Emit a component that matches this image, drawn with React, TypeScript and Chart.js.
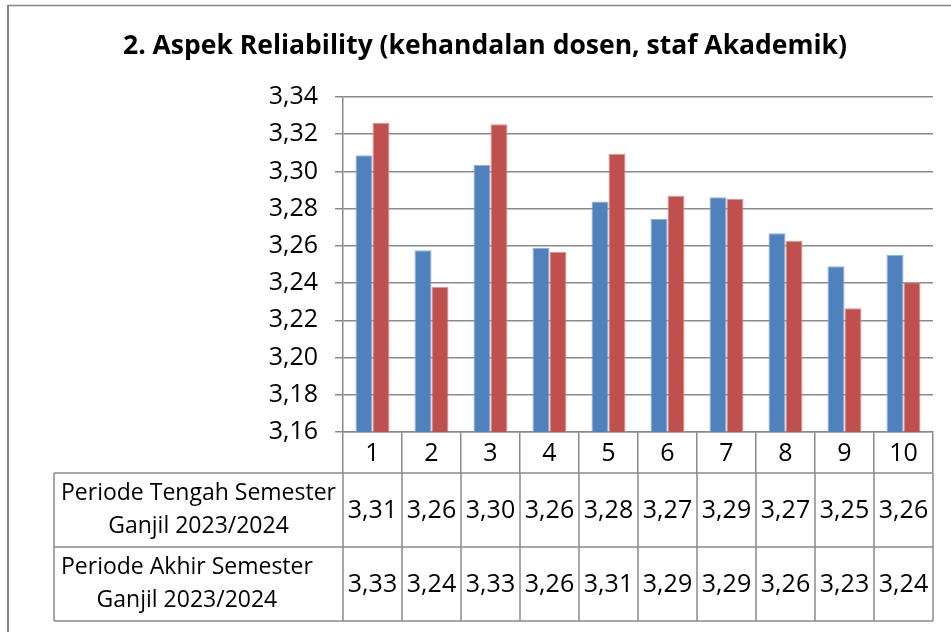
import React, { useEffect, useRef } from "react";
import { Chart, registerables } from "chart.js";

Chart.register(...registerables);

const chartTitle = "2. Aspek Reliability (kehandalan dosen, staf Akademik)";
const categories = ["1", "2", "3", "4", "5", "6", "7", "8", "9", "10"];
const tengahLabel = ["Periode Tengah Semester", "Ganjil 2023/2024"];
const akhirLabel = ["Periode Akhir Semester", "Ganjil 2023/2024"];
const tengahValues = [3.3087, 3.2576, 3.3035, 3.259, 3.2838, 3.2745, 3.2861, 3.2668, 3.249, 3.2553];
const akhirValues = [3.3262, 3.2381, 3.3253, 3.2567, 3.3095, 3.287, 3.2852, 3.2628, 3.2265, 3.2404];
const yMin = 3.16;
const yMax = 3.34;
const yStep = 0.02;

const FONT = '"Open Sans", "DejaVu Sans", sans-serif';
const GRID = "#8a8a8a";
const NUM_SIZE = 25;

const fmt = (v: number) => v.toFixed(2).replace(".", ",");

const chromePlugin = {
  id: "chrome",
  beforeDraw(chart: any) {
    const ctx = chart.ctx;
    ctx.save();
    ctx.fillStyle = "#ffffff";
    ctx.fillRect(0, 0, chart.width, chart.height);
    ctx.strokeStyle = "#868686";
    ctx.lineWidth = 2;
    ctx.beginPath();
    ctx.moveTo(8, 5);
    ctx.lineTo(8, chart.height);
    ctx.stroke();
    ctx.lineWidth = 1.5;
    ctx.beginPath();
    ctx.moveTo(7, 5.5);
    ctx.lineTo(chart.width, 5.5);
    ctx.stroke();
    ctx.restore();
  },
  afterDraw(chart: any) {
    const ctx = chart.ctx;
    const xs = chart.scales.x;
    ctx.save();
    // title
    ctx.fillStyle = "#000";
    ctx.font = `bold 26.5px ${FONT}`;
    ctx.textAlign = "center";
    ctx.textBaseline = "alphabetic";
    ctx.fillText(chartTitle, 485, 54);

    // data table
    const tableTop = xs.top + xs.options.grid.tickLength;
    const rowH = (xs.bottom - tableTop) / 2;
    const tableLeft = 54;
    const n = categories.length;
    const bounds: number[] = [xs.left];
    for (let i = 0; i < n - 1; i++) {
      bounds.push((xs.getPixelForValue(i) + xs.getPixelForValue(i + 1)) / 2);
    }
    bounds.push(xs.right);

    ctx.strokeStyle = GRID;
    ctx.lineWidth = 1.5;
    ctx.beginPath();
    for (let r = 0; r <= 2; r++) {
      const y = tableTop + r * rowH;
      ctx.moveTo(tableLeft, y);
      ctx.lineTo(xs.right, y);
    }
    ctx.moveTo(tableLeft, tableTop);
    ctx.lineTo(tableLeft, xs.bottom);
    bounds.forEach((b) => {
      ctx.moveTo(b, tableTop);
      ctx.lineTo(b, xs.bottom);
    });
    ctx.stroke();

    ctx.fillStyle = "#000";
    ctx.textAlign = "center";
    ctx.textBaseline = "middle";
    chart.data.datasets.forEach((ds: any, r: number) => {
      const cy = tableTop + r * rowH + rowH / 2;
      const lines: string[] = ds.label.split("\n");
      const lh = 33;
      ctx.font = `23px ${FONT}`;
      const maxW = Math.max(...lines.map((ln) => ctx.measureText(ln).width));
      const labelX = tableLeft + 7 + maxW / 2;
      lines.forEach((ln, k) => {
        ctx.fillText(ln, labelX, cy + (k - (lines.length - 1) / 2) * lh);
      });
      ctx.font = `${NUM_SIZE}px ${FONT}`;
      ds.data.forEach((v: number, i: number) => {
        ctx.fillText(fmt(v), xs.getPixelForValue(i), cy + 1);
      });
    });
    ctx.restore();
  },
};

export default function App() {
  const ref = useRef<HTMLCanvasElement | null>(null);
  useEffect(() => {
    if (!ref.current) return;
    const chart = new Chart(ref.current, {
      type: "bar",
      data: {
        labels: categories,
        datasets: [
          {
            label: tengahLabel.join("\n"),
            data: tengahValues,
            backgroundColor: "#4F81BD",
            borderColor: "#8FB0DA",
            borderWidth: 1,
            categoryPercentage: 0.576,
            barPercentage: 1,
          },
          {
            label: akhirLabel.join("\n"),
            data: akhirValues,
            backgroundColor: "#C0504D",
            borderColor: "#DC9593",
            borderWidth: 1,
            categoryPercentage: 0.576,
            barPercentage: 1,
          },
        ],
      },
      options: {
        responsive: false,
        animation: false,
        devicePixelRatio: 1,
        layout: { padding: { left: 0, top: 97, right: 18, bottom: 11 } },
        plugins: {
          legend: { display: false },
          tooltip: { enabled: false },
          title: { display: false },
        },
        scales: {
          x: {
            offset: true,
            grid: {
              offset: true,
              drawOnChartArea: false,
              drawTicks: true,
              tickLength: 41,
              color: GRID,
              lineWidth: 1.5,
            },
            border: { display: true, color: GRID, width: 1.5 },
            ticks: {
              color: "#000",
              font: { family: FONT, size: NUM_SIZE },
              padding: -34,
              autoSkip: false,
              maxRotation: 0,
            },
            afterFit: (scale: any) => {
              scale.height = 189;
            },
          },
          y: {
            min: yMin,
            max: yMax,
            grid: {
              color: GRID,
              lineWidth: 1.5,
              tickLength: 8,
              drawTicks: true,
            },
            border: { display: true, color: GRID, width: 1.5 },
            ticks: {
              stepSize: yStep,
              color: "#000",
              font: { family: FONT, size: NUM_SIZE },
              padding: 17,
              callback: (v: any) => fmt(Number(v)),
            },
            afterFit: (scale: any) => {
              scale.width = 343;
            },
          },
        },
      },
      plugins: [chromePlugin],
    });
    return () => chart.destroy();
  }, []);
  return (
    <div style={{ position: "fixed", left: 0, top: 0, width: 951, height: 632 }}>
      <canvas ref={ref} width={951} height={632} style={{ display: "block" }} />
    </div>
  );
}
